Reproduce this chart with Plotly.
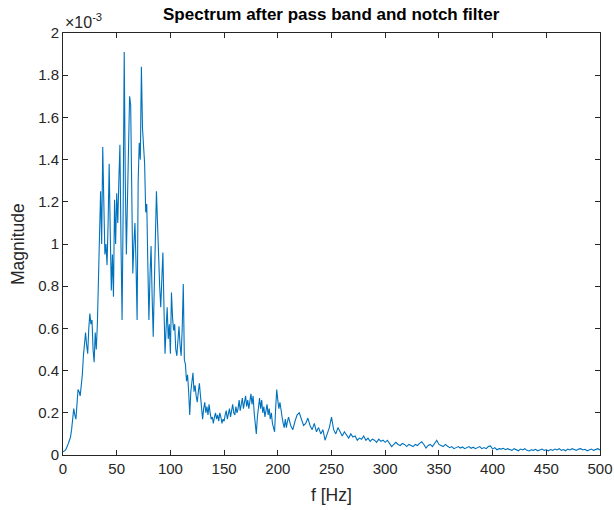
import plotly.graph_objects as go

# Magnitude values in units of 1e-3
f_fine = list(range(0, 210))
mag_fine = [
    0.015, 0.018, 0.022, 0.03, 0.04, 0.055, 0.07, 0.085, 0.12, 0.17,
    0.22, 0.19, 0.17, 0.24, 0.31, 0.30, 0.28, 0.33, 0.38, 0.47,
    0.55, 0.58, 0.52, 0.48, 0.60, 0.67, 0.62, 0.64, 0.50, 0.44,
    0.58, 0.50, 0.62, 0.80, 1.05, 1.25, 1.00, 1.46, 1.20, 0.95,
    1.00, 0.90, 1.10, 1.38, 1.05, 0.78, 0.95, 0.75, 1.21, 1.00,
    1.24, 1.10, 1.30, 1.47, 1.00, 0.64, 1.15, 1.91, 1.30, 0.95,
    1.20, 1.40, 1.70, 1.66, 1.30, 0.86, 1.00, 1.10, 0.90, 0.64,
    1.30, 1.48, 1.40, 1.84, 1.55, 1.45, 1.38, 1.15, 1.19, 0.90,
    0.64, 0.85, 0.99, 0.75, 0.56, 0.80, 1.00, 1.25, 1.10, 0.92,
    0.80, 0.70, 0.85, 0.96, 0.70, 0.48, 0.60, 0.70, 0.55, 0.62,
    0.48, 0.77, 0.65, 0.59, 0.62, 0.50, 0.47, 0.55, 0.61, 0.52,
    0.47, 0.60, 0.81, 0.45, 0.43, 0.35, 0.38, 0.30, 0.19, 0.30,
    0.35, 0.39, 0.30, 0.33, 0.28, 0.25, 0.30, 0.34, 0.28, 0.22,
    0.17, 0.22, 0.25, 0.20, 0.23, 0.19, 0.24, 0.20, 0.17, 0.18,
    0.15, 0.18, 0.20, 0.17, 0.19, 0.16, 0.20, 0.18, 0.15, 0.17,
    0.16, 0.19, 0.21, 0.17, 0.20, 0.22, 0.18, 0.21, 0.24, 0.20,
    0.19, 0.23, 0.20, 0.22, 0.26, 0.21, 0.24, 0.27, 0.22, 0.25,
    0.28, 0.23, 0.26, 0.22, 0.27, 0.29, 0.24, 0.28, 0.20, 0.15,
    0.10, 0.18, 0.24, 0.27, 0.22, 0.26, 0.20, 0.23, 0.18, 0.21,
    0.24, 0.19, 0.22, 0.17, 0.20, 0.15, 0.12, 0.11, 0.22, 0.31,
    0.26, 0.22, 0.25, 0.20, 0.18, 0.15, 0.13, 0.17, 0.13, 0.16,
]
f_coarse = list(range(210, 501, 2))
mag_coarse = [
    0.18, 0.14, 0.12, 0.16, 0.19, 0.20, 0.17, 0.14, 0.15, 0.175,
    0.14, 0.12, 0.15, 0.11, 0.13, 0.10, 0.12, 0.07, 0.10, 0.13,
    0.18, 0.12, 0.10, 0.13, 0.11, 0.09, 0.11, 0.095, 0.08, 0.10,
    0.085, 0.09, 0.07, 0.08, 0.075, 0.09, 0.07, 0.08, 0.065, 0.075,
    0.07, 0.06, 0.075, 0.065, 0.07,
    0.06, 0.07, 0.055, 0.04, 0.05, 0.06, 0.05, 0.045, 0.055, 0.05,
    0.04, 0.05, 0.045, 0.04, 0.05, 0.045, 0.055, 0.063, 0.05, 0.033,
    0.045, 0.05, 0.04, 0.055, 0.07,
    0.05, 0.045, 0.04, 0.05, 0.04, 0.035, 0.04, 0.03, 0.035, 0.04,
    0.033, 0.038, 0.03, 0.035, 0.04, 0.032, 0.037, 0.03, 0.035, 0.04,
    0.03, 0.035, 0.03, 0.04, 0.043,
    0.028, 0.035, 0.025, 0.03, 0.028, 0.032, 0.025, 0.03, 0.027, 0.022,
    0.03, 0.025, 0.02, 0.028, 0.024, 0.03, 0.022, 0.019, 0.025, 0.022,
    0.027, 0.02, 0.024, 0.028, 0.022,
    0.025, 0.02, 0.026, 0.022, 0.028, 0.024, 0.03, 0.022, 0.026, 0.02,
    0.028, 0.024, 0.03, 0.026, 0.022, 0.028, 0.03, 0.024, 0.027, 0.02,
    0.025, 0.028, 0.022, 0.026, 0.03, 0.024,
]
freqs = f_fine + f_coarse
mags = [m * 1e-3 for m in (mag_fine + mag_coarse)]

x_ticks = [0, 50, 100, 150, 200, 250, 300, 350, 400, 450, 500]
y_tick_labels = ["0", "0.2", "0.4", "0.6", "0.8", "1", "1.2", "1.4", "1.6", "1.8", "2"]
y_ticks = [i * 0.2e-3 for i in range(11)]

FONT = "Liberation Sans, Arial, Helvetica"
GREY = "#262626"

fig = go.Figure()
fig.add_trace(go.Scatter(x=freqs, y=mags, mode="lines",
                         line=dict(color="#0072BD", width=1.1), showlegend=False))

axis_common = dict(
    showline=True, linecolor=GREY, linewidth=1, mirror="ticks",
    ticks="inside", ticklen=5, tickcolor=GREY, showgrid=False,
    zeroline=False, automargin=False,
    tickfont=dict(family=FONT, size=15, color=GREY),
)
fig.update_layout(
    width=614, height=510,
    margin=dict(l=63, r=14, t=33, b=55, autoexpand=False),
    paper_bgcolor="white", plot_bgcolor="white",
    xaxis=dict(range=[0, 500], tickvals=x_ticks, **axis_common),
    yaxis=dict(range=[0, 0.002], tickvals=y_ticks, ticktext=y_tick_labels, **axis_common),
)
# Title
fig.add_annotation(text="<b>Spectrum after pass band and notch filter</b>",
                   xref="paper", yref="paper", x=0.5, y=1, yshift=19,
                   xanchor="center", yanchor="middle", showarrow=False,
                   font=dict(family=FONT, size=17, color="black"))
# Axis titles
fig.add_annotation(text="f [Hz]", xref="paper", yref="paper", x=0.5, y=0, yshift=-40,
                   xanchor="center", yanchor="middle", showarrow=False,
                   font=dict(family=FONT, size=17.5, color=GREY))
fig.add_annotation(text="Magnitude", xref="paper", yref="paper", x=0, xshift=-45, y=0.5,
                   xanchor="center", yanchor="middle", textangle=-90, showarrow=False,
                   font=dict(family=FONT, size=17.5, color=GREY))
# Exponent label
fig.add_annotation(text="×10<sup>-3</sup>", xref="paper", yref="paper",
                   x=0, y=1, xanchor="left", yanchor="bottom", showarrow=False,
                   font=dict(family=FONT, size=16, color=GREY))
fig.write_html("out.html")
